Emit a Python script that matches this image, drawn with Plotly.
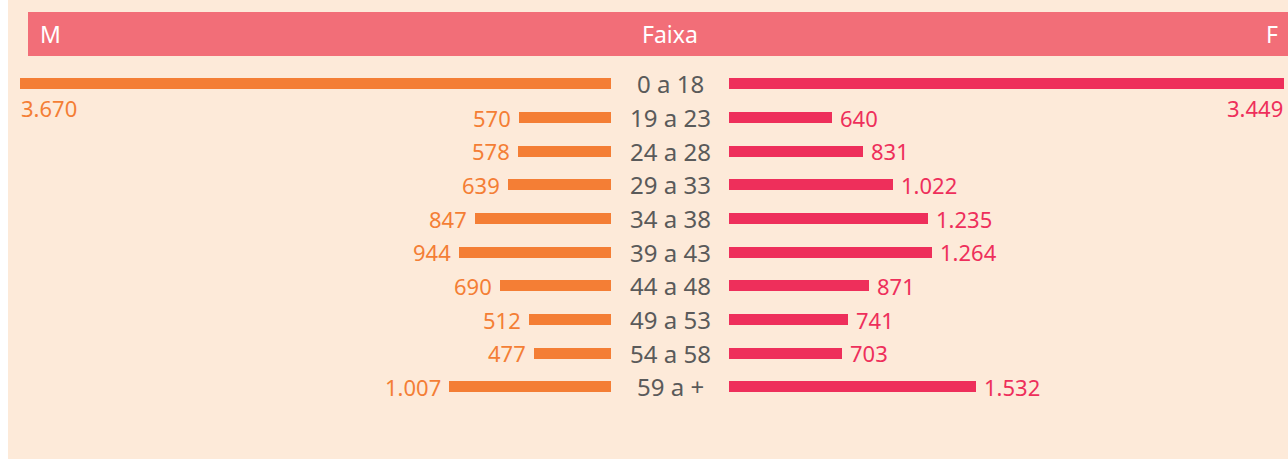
import plotly.graph_objects as go

categories = ["0 a 18", "19 a 23", "24 a 28", "29 a 33", "34 a 38", "39 a 43", "44 a 48", "49 a 53", "54 a 58", "59 a +"]
male = [3670, 570, 578, 639, 847, 944, 690, 512, 477, 1007]
female = [3449, 640, 831, 1022, 1235, 1264, 871, 741, 703, 1532]
header_left = "M"
header_mid = "Faixa"
header_right = "F"

W, H = 1288, 459
ORANGE = "#F47E35"
RED = "#EE2F5B"
HEADER = "#F26E78"
BG = "#FDEAD9"
TXT = "#5A5A5A"
FONT = "Noto Sans"

def fmt(v):
    return f"{v:,}".replace(",", ".")

def px(x):
    return x / W

def py(y):
    return 1 - y / H

idx = list(range(len(categories)))

fig = go.Figure()
fig.add_trace(go.Bar(y=idx, x=male, orientation="h", marker=dict(color=ORANGE, line=dict(width=0)),
                     width=0.33, xaxis="x", yaxis="y", hoverinfo="skip", showlegend=False))
fig.add_trace(go.Bar(y=idx, x=female, orientation="h", marker=dict(color=RED, line=dict(width=0)),
                     width=0.33, xaxis="x2", yaxis="y", hoverinfo="skip", showlegend=False))

annotations = []
for i, (c, m, f) in enumerate(zip(categories, male, female)):
    annotations.append(dict(x=px(670), xref="paper", y=i, yref="y", text=c, showarrow=False,
                            xanchor="center", yanchor="middle", font=dict(family=FONT, size=24, color=TXT)))
    if i == 0:
        annotations.append(dict(x=m, xref="x", y=i, yref="y", text=fmt(m), showarrow=False,
                                xanchor="left", yanchor="middle", yshift=-24, xshift=-1,
                                font=dict(family=FONT, size=22, color=ORANGE)))
        annotations.append(dict(x=f, xref="x2", y=i, yref="y", text=fmt(f), showarrow=False,
                                xanchor="right", yanchor="middle", yshift=-24, xshift=1,
                                font=dict(family=FONT, size=22, color=RED)))
    else:
        annotations.append(dict(x=m, xref="x", y=i, yref="y", text=fmt(m), showarrow=False,
                                xanchor="right", yanchor="middle", xshift=-6,
                                font=dict(family=FONT, size=22, color=ORANGE)))
        annotations.append(dict(x=f, xref="x2", y=i, yref="y", text=fmt(f), showarrow=False,
                                xanchor="left", yanchor="middle", xshift=6,
                                font=dict(family=FONT, size=22, color=RED)))

# header texts
annotations.append(dict(x=px(38), xref="paper", y=py(34), yref="paper", text=header_left, showarrow=False,
                        xanchor="left", yanchor="middle", font=dict(family=FONT, size=23, color="white")))
annotations.append(dict(x=px(670), xref="paper", y=py(34), yref="paper", text=header_mid, showarrow=False,
                        xanchor="center", yanchor="middle", font=dict(family=FONT, size=23, color="white")))
annotations.append(dict(x=px(1280), xref="paper", y=py(34), yref="paper", text=header_right, showarrow=False,
                        xanchor="right", yanchor="middle", font=dict(family=FONT, size=23, color="white")))

shapes = [
    dict(type="rect", xref="paper", yref="paper", x0=px(8), x1=1, y0=0, y1=1,
         fillcolor=BG, line=dict(width=0), layer="below"),
    dict(type="rect", xref="paper", yref="paper", x0=px(28), x1=1, y0=py(56), y1=py(12),
         fillcolor=HEADER, line=dict(width=0), layer="below"),
]

row_sp = (387 - 84) / 9
fig.update_layout(
    width=W, height=H,
    margin=dict(l=0, r=0, t=0, b=0),
    paper_bgcolor="white", plot_bgcolor="rgba(0,0,0,0)",
    bargap=0,
    xaxis=dict(domain=[px(20), px(611)], range=[3670, 0], visible=False, fixedrange=True),
    xaxis2=dict(domain=[px(729), px(1284)], range=[0, 3449], visible=False, fixedrange=True),
    yaxis=dict(domain=[py(387 + row_sp / 2), py(84 - row_sp / 2)], range=[9.5, -0.5], visible=False, fixedrange=True),
    annotations=annotations,
    shapes=shapes,
    showlegend=False,
)

fig.write_html("out.html", config={"displayModeBar": False},
               post_script="document.body.style.margin='0';document.body.style.overflow='hidden';")
